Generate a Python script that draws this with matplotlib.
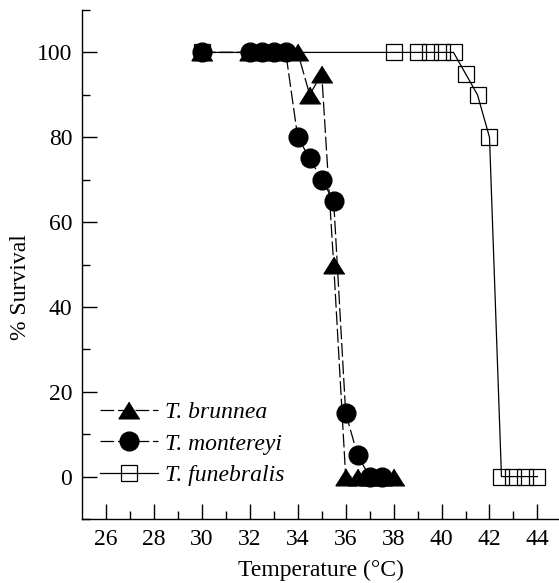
import matplotlib
matplotlib.use("Agg")
import matplotlib.pyplot as plt

plt.rcParams['font.family'] = ['Liberation Serif', 'DejaVu Serif']

# survival (%) of three Tegula species vs. temperature
brunnea_t = [30, 32, 33, 34, 34.5, 35, 35.5, 36, 36.5, 37, 37.5, 38]
brunnea_s = [100, 100, 100, 100, 90, 95, 50, 0, 0, 0, 0, 0]

montereyi_t = [30, 32, 32.5, 33, 33.5, 34, 34.5, 35, 35.5, 36, 36.5, 37, 37.5]
montereyi_s = [100, 100, 100, 100, 100, 80, 75, 70, 65, 15, 5, 0, 0]

funebralis_t = [30, 38, 39, 39.5, 40, 40.5, 41, 41.5, 42, 42.5, 43, 43.5, 44]
funebralis_s = [100, 100, 100, 100, 100, 100, 95, 90, 80, 0, 0, 0, 0]

x_ticks = [26, 28, 30, 32, 34, 36, 38, 40, 42, 44]
y_ticks = [0, 20, 40, 60, 80, 100]

fs = 17
tri = [(0, 0.8), (-1, -0.8), (1, -0.8)]

fig = plt.figure(figsize=(5.59, 5.83), dpi=100)
ax = fig.add_axes([82 / 559, 64 / 583, 477 / 559, 509 / 583])

ax.plot(funebralis_t, funebralis_s, color='black', lw=0.9, marker='s',
        markersize=12.2, markerfacecolor='none', markeredgecolor='black',
        markeredgewidth=0.9, label='T. funebralis', zorder=2)
ax.plot(brunnea_t, brunnea_s, color='black', lw=0.9, dashes=(11, 3),
        marker=tri, markersize=15, markerfacecolor='black',
        markeredgecolor='black', label='T. brunnea', zorder=3)
ax.plot(montereyi_t, montereyi_s, color='black', lw=0.9, dashes=(11, 3),
        marker='o', markersize=13.5, markerfacecolor='black',
        markeredgecolor='black', label='T. montereyi', zorder=4)

ax.set_xlim(25, 44.9)
ax.set_ylim(-10, 110)
ax.set_xticks(x_ticks)
ax.set_xticks([27, 29, 31, 33, 35, 37, 39, 41, 43], minor=True)
ax.set_yticks(y_ticks)
ax.set_yticks([-10, 10, 30, 50, 70, 90, 110], minor=True)

for side in ['top', 'right']:
    ax.spines[side].set_visible(False)
for side in ['left', 'bottom']:
    ax.spines[side].set_linewidth(1.0)

ax.tick_params(which='major', direction='in', length=11, width=1.0,
               labelsize=fs, pad=7)
ax.tick_params(which='minor', direction='in', length=6, width=1.0)

ax.set_xlabel('Temperature (°C)', fontsize=fs)
ax.xaxis.set_label_coords(0.5, -0.08)
ax.set_ylabel('% Survival', fontsize=fs)
ax.yaxis.set_label_coords(-0.107, 0.456)

handles, labels = ax.get_legend_handles_labels()
order = [1, 2, 0]
leg = ax.legend([handles[i] for i in order], [labels[i] for i in order],
                loc='center left', bbox_to_anchor=(100 / 559, 1 - 444 / 583),
                bbox_transform=fig.transFigure, frameon=False,
                prop={'size': fs, 'style': 'italic'}, handlelength=2.45,
                handletextpad=0.3, labelspacing=0.43, borderpad=0,
                borderaxespad=0)

fig.savefig('out.png', dpi=100)
